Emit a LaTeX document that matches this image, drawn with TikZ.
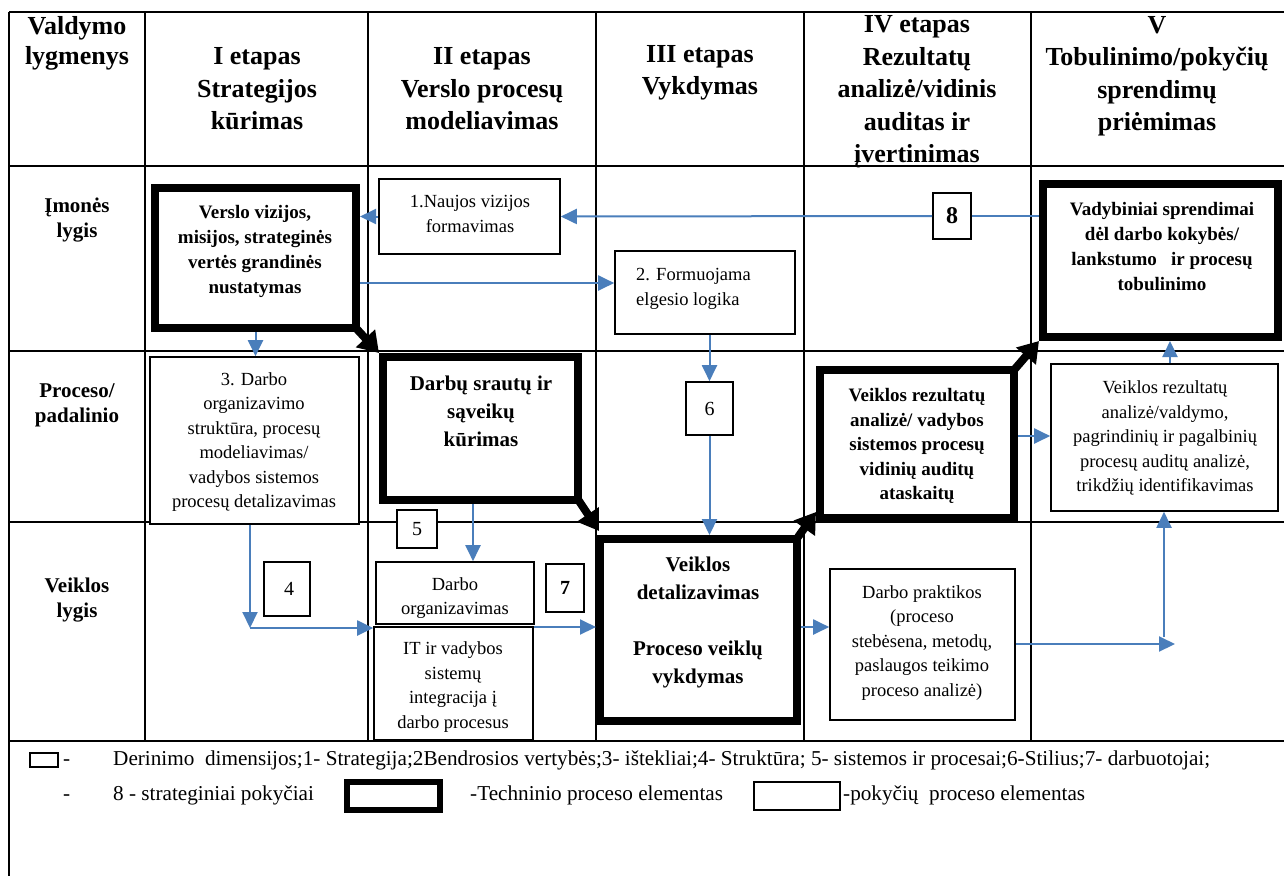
\documentclass[tikz,border=0pt]{standalone}
\usepackage{fontspec}
\setmainfont{Liberation Serif}
\usetikzlibrary{arrows.meta,fit}
\definecolor{flowblue}{RGB}{74,126,187}

\begin{document}
\begin{tikzpicture}[x=1pt,y=-1pt,
  grid/.style={line width=2.2pt},
  thinbox/.style={draw, fill=white, line width=1.6pt, inner sep=0pt},
  thickbox/.style={draw, fill=white, line width=8pt, inner sep=0pt},
  flow/.style={draw=flowblue, line width=2pt, -{Triangle[length=16pt,width=15pt]}},
  flowline/.style={draw=flowblue, line width=2pt},
  bigarrow/.style={line width=8pt, -{Triangle[length=20pt,width=25pt]}},
  txt/.style={inner sep=0pt, align=center},
  hdr/.style={txt, font=\fontsize{26}{32.5}\selectfont\bfseries},
  rowhdr/.style={txt, font=\fontsize{21}{25}\selectfont\bfseries},
  body/.style={txt, font=\fontsize{18.5}{24.5}\selectfont},
  bodybf/.style={txt, font=\fontsize{19}{25}\selectfont\bfseries},
  bigbf/.style={txt, font=\fontsize{21}{28}\selectfont\bfseries},
  numtxt/.style={txt, font=\fontsize{20}{24}\selectfont},
  legend/.style={inner sep=0pt, anchor=base west, font=\fontsize{21.2}{24}\selectfont},
]
\useasboundingbox (0,0) rectangle (1284,876);

% table grid
\draw[grid] (9,12) -- (1284,12);
\draw[grid] (9,166) -- (1284,166);
\draw[grid] (9,351) -- (1284,351);
\draw[grid] (9,522) -- (1284,522);
\draw[grid] (9,741) -- (1284,741);
\draw[grid] (9,12) -- (9,876);
\foreach \cx in {145,368,596,804,1031} \draw[grid] (\cx,12) -- (\cx,741);

% column headings
\node[hdr, font=\fontsize{26}{30}\selectfont\bfseries] (h0) at (77,43) {Valdymo\\lygmenys};
\node[hdr] (h1) at (257,89) {I etapas\\Strategijos\\kūrimas};
\node[hdr] (h2) at (482,89) {II etapas\\Verslo procesų\\modeliavimas};
\node[hdr] (h3) at (700,73) {III etapas\\Vykdymas};
\node[hdr] (h4) at (917,92) {IV etapas\\Rezultatų\\analizė/vidinis\\auditas ir\\įvertinimas};
\node[hdr] (h5) at (1157,76.5) {V\\Tobulinimo/pokyčių\\sprendimų\\priėmimas};

% row headings
\node[rowhdr] (r1) at (77,220) {Įmonės\\lygis};
\node[rowhdr] (r2) at (77,405) {Proceso/\\padalinio};
\node[rowhdr] (r3) at (77,600) {Veiklos\\lygis};

% boxes
\node[thickbox, fit={(155,188) (356,328)}] (boxA) {};
\node[thinbox, fit={(379,179) (560,254)}] (box1) {};
\node[thinbox, fit={(615,251) (795,334)}] (box2) {};
\node[thickbox, fit={(1043,184) (1278,337)}] (boxV) {};
\node[thinbox, fit={(150,357) (359,524)}] (box3) {};
\node[thickbox, fit={(383,357) (578,500)}] (boxB) {};
\node[thickbox, fit={(820,370) (1014,518)}] (boxC) {};
\node[thinbox, fit={(1051,364) (1278,511)}] (boxVt) {};
\node[thinbox, fit={(376,562) (534,624)}] (boxDO) {};
\node[thinbox, fit={(374,627) (533,740)}] (boxIT) {};
\node[thickbox, fit={(600,539) (797,721)}] (boxD) {};
\node[thinbox, fit={(830,569) (1015,720)}] (boxP) {};

% numbered boxes
\node[thinbox, fit={(933,193) (971,239)}] (box8) {};
\node[thinbox, fit={(686,382) (733,435)}] (box6) {};
\node[thinbox, fit={(264,562) (310,616)}] (box4) {};
\node[thinbox, fit={(397,510) (437,548)}] (box5) {};
\node[thinbox, fit={(546,564) (584,612)}] (box7) {};
\node[numtxt, font=\fontsize{24}{24}\selectfont\bfseries] (n8) at (box8) {8};
\node[numtxt] (n6) at (box6) {6};
\node[numtxt] (n4) at (289,589) {4};
\node[numtxt] (n5) at (box5) {5};
\node[numtxt, font=\fontsize{20}{24}\selectfont\bfseries] (n7) at (box7) {7};

% box texts
\node[bodybf] (tA) at (255,251) {Verslo vizijos,\\misijos, strateginės\\vertės grandinės\\nustatymas};
\node[body] (t1) at (470,214) {1.Naujos vizijos\\formavimas};
\node[body, align=left, anchor=west] (t2) at (636,289) {2. Formuojama\\elgesio logika};
\node[bodybf] (tV) at (1162,247) {Vadybiniai sprendimai\\dėl darbo kokybės/\\lankstumo\ \ \ ir procesų\\tobulinimo};
\node[body] (t3) at (254,442) {3. Darbo\\organizavimo\\struktūra, procesų\\modeliavimas/\\vadybos sistemos\\procesų detalizavimas};
\node[bigbf] (tB) at (481,411) {Darbų srautų ir\\sąveikų\\kūrimas};
\node[bodybf, font=\fontsize{19}{24.5}\selectfont\bfseries] (tC) at (917,446) {Veiklos rezultatų\\analizė/ vadybos\\sistemos procesų\\vidinių auditų\\ataskaitų};
\node[body] (tVt) at (1165,438) {Veiklos rezultatų\\analizė/valdymo,\\pagrindinių ir pagalbinių\\procesų auditų analizė,\\trikdžių identifikavimas};
\node[body] (tDO) at (455,598) {Darbo\\organizavimas};
\node[body] (tIT) at (453,687) {IT ir vadybos\\sistemų\\integracija į\\darbo procesus};
\node[bigbf] (tD) at (698,622) {Veiklos\\detalizavimas\\[28pt]Proceso veiklų\\vykdymas};
\node[body] (tP) at (922,643) {Darbo praktikos\\(proceso\\stebėsena, metodų,\\paslaugos teikimo\\proceso analizė)};

% blue connectors
\coordinate (c2) at (0,283);
\coordinate (c4) at (250,628);
\coordinate (c5) at (473,0);
\coordinate (c7) at (0,627);
\coordinate (c9) at (0,436);
\coordinate (c10) at (1170,0);
\coordinate (c11) at (1175,644);
\coordinate (c12) at (1164,637);

\draw[flow] (box1.west) -- (box1.west -| boxA.east);
\draw[flow] (box8.west) -- (box1.east);
\draw[flowline] (box8.east) -- (box8.east -| boxV.west);
\draw[flow] (c2 -| boxA.east) -- (c2 -| box2.west);
\draw[flow] (boxA.south) -- (boxA.south |- box3.north);
\draw[flow] (box6.north |- box2.south) -- (box6.north);
\draw[flow] (box6.south) -- (box6.south |- boxD.north);
\draw[flow] (box3.south -| c4) -- (c4);
\draw[flow] (c4) -- (c4 -| boxIT.west);
\draw[flow] (boxB.south -| c5) -- (boxDO.north -| c5);
\draw[flow] (c7 -| boxIT.east) -- (c7 -| boxD.west);
\draw[flow] (c7 -| boxD.east) -- (c7 -| boxP.west);
\draw[flow] (c9 -| boxC.east) -- (c9 -| boxVt.west);
\draw[flow] (boxVt.north -| c10) -- (boxV.south -| c10);
\draw[flow] (boxP.east |- c11) -- (c11);
\draw[flow] (c12) -- (c12 |- boxVt.south);

% black stage arrows
\draw[bigarrow] ([xshift=-6pt,yshift=6pt]boxA.south east) -- (boxB.north west);
\draw[bigarrow] ([xshift=-5pt,yshift=6pt]boxB.south east) -- ([xshift=3pt,yshift=4pt]boxD.north west);
\draw[bigarrow] ([xshift=-3pt,yshift=-2pt]boxD.north east) -- ([yshift=10pt]boxC.south west);
\draw[bigarrow] ([xshift=-4pt,yshift=-4pt]boxC.north east) -- (boxV.south west);

% legend
\node[thinbox, fit={(30,753) (58,767)}] (lg1) {};
\node[legend] (d1) at (63,765) {-};
\node[legend] (lt1) at (113,765) {Derinimo\ \ dimensijos;1- Strategija;2Bendrosios vertybės;3- ištekliai;4- Struktūra; 5- sistemos ir procesai;6-Stilius;7- darbuotojai;};
\node[legend] (d2) at (63,800) {-};
\node[legend] (lt2) at (113,800) {8 - strateginiai pokyčiai};
\node[draw, fill=white, line width=6pt, inner sep=0pt, fit={(347,782) (440,810)}] (lg2) {};
\node[legend] (lt3) at (470,800) {-Techninio proceso elementas};
\node[thinbox, fit={(754,782) (840,810)}] (lg3) {};
\node[legend] (lt4) at (843,800) {-pokyčių\ \ proceso elementas};
\end{tikzpicture}
\end{document}
